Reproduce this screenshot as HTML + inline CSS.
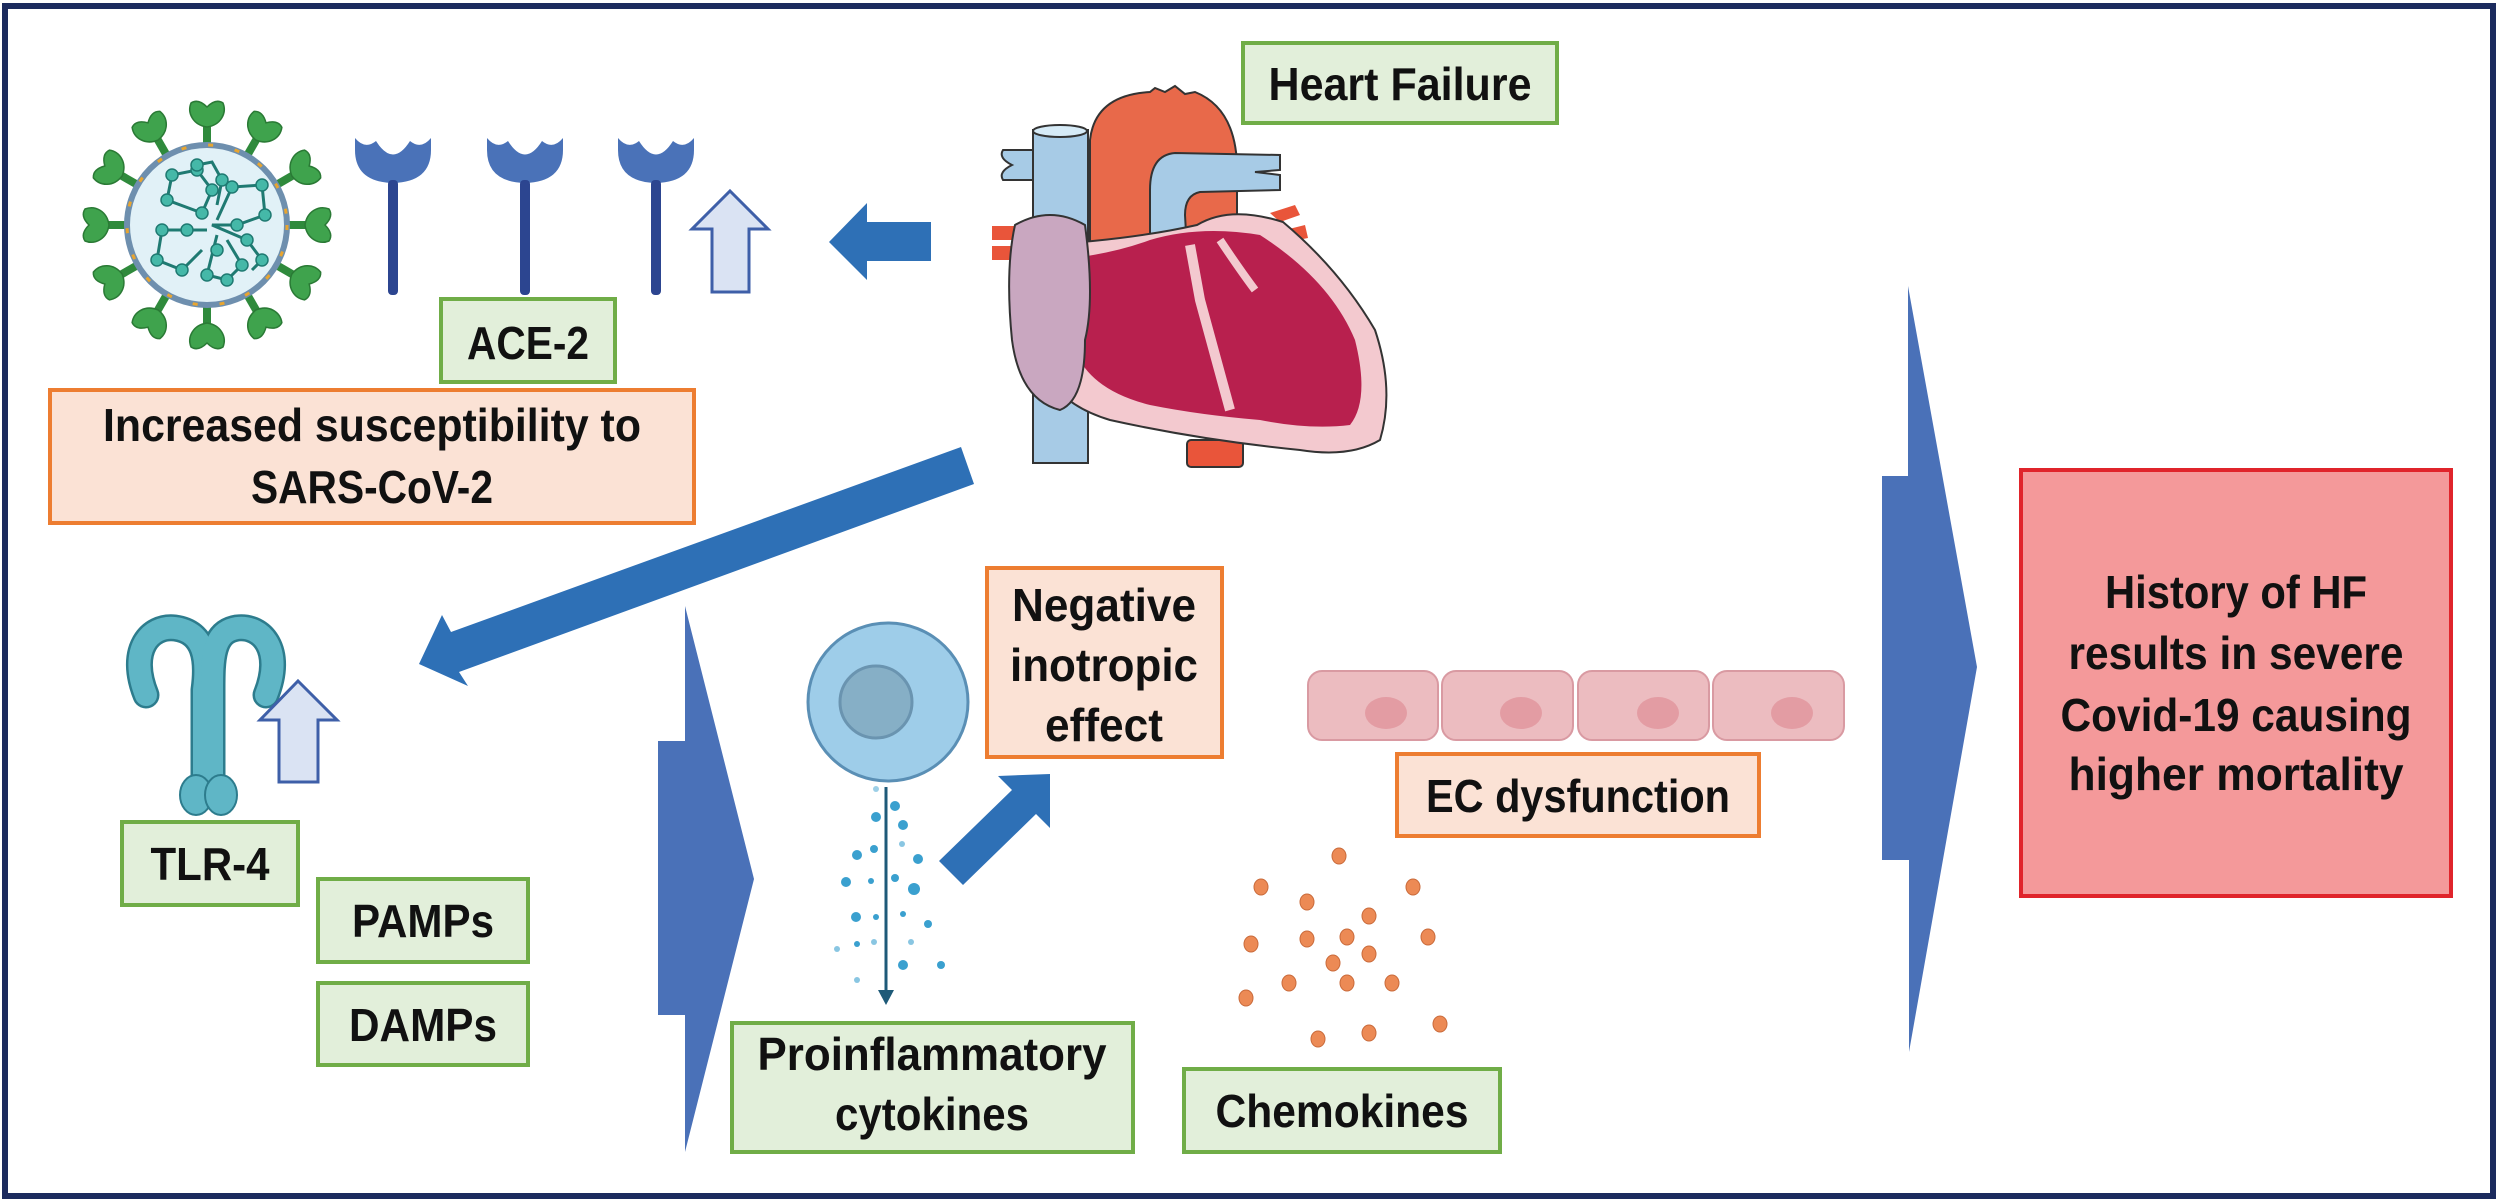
<!DOCTYPE html>
<html><head><meta charset="utf-8"><style>
html,body{margin:0;padding:0;background:#fff;}
svg{display:block;}
text{font-family:"Liberation Sans",sans-serif;font-weight:bold;fill:#111;text-anchor:middle;}
</style></head><body>
<svg width="2500" height="1204" viewBox="0 0 2500 1204" xmlns="http://www.w3.org/2000/svg">
<defs>
<g id="spike">
<rect x="-4" y="-104" width="8" height="26" fill="#2f8a3c"/>
<path d="M0,-98 C-14,-100 -20,-112 -16,-122 C-10,-126 -4,-122 0,-118 C4,-122 10,-126 16,-122 C20,-112 14,-100 0,-98 Z" fill="#3fa34d" stroke="#2a7a35" stroke-width="1.5"/>
</g>
</defs>
<rect x="0" y="0" width="2500" height="1204" fill="#fff"/>
<rect x="5" y="6" width="2488" height="1190" fill="none" stroke="#1c2b5e" stroke-width="6"/>

<!-- virus -->
<g transform="translate(207,225)">
<use href="#spike"/><use href="#spike" transform="rotate(30)"/><use href="#spike" transform="rotate(60)"/><use href="#spike" transform="rotate(90)"/><use href="#spike" transform="rotate(120)"/><use href="#spike" transform="rotate(150)"/><use href="#spike" transform="rotate(180)"/><use href="#spike" transform="rotate(210)"/><use href="#spike" transform="rotate(240)"/><use href="#spike" transform="rotate(270)"/><use href="#spike" transform="rotate(300)"/><use href="#spike" transform="rotate(330)"/>
<circle r="80" fill="#e1f1f7" stroke="#6e8fae" stroke-width="6"/>
<circle r="80" fill="none" stroke="#e8a530" stroke-width="3" stroke-dasharray="5 22"/>
<g fill="none" stroke="#1f7a72" stroke-width="3">
<path d="M-5,-12 L-40,-25 L-35,-50 L-10,-55 L5,-35 Z"/>
<path d="M0,5 L-45,5 L-50,35 L-25,45 L-5,25"/>
<path d="M10,10 L0,50 L20,55 L35,40 L20,15"/>
<path d="M10,-5 L25,-38 L55,-40 L58,-10 L30,0 L5,0 L40,15 L55,35 L45,45"/>
<path d="M-10,-60 L5,-63 L15,-45 L10,-20"/>
</g>
<g fill="#45b8a8" stroke="#1f7a72" stroke-width="1.5">
<circle cx="-5" cy="-12" r="6"/><circle cx="-40" cy="-25" r="6"/><circle cx="-35" cy="-50" r="6"/><circle cx="-10" cy="-55" r="6"/><circle cx="5" cy="-35" r="6"/>
<circle cx="-45" cy="5" r="6"/><circle cx="-50" cy="35" r="6"/><circle cx="-25" cy="45" r="6"/><circle cx="-20" cy="5" r="6"/>
<circle cx="0" cy="50" r="6"/><circle cx="20" cy="55" r="6"/><circle cx="35" cy="40" r="6"/><circle cx="10" cy="25" r="6"/>
<circle cx="25" cy="-38" r="6"/><circle cx="55" cy="-40" r="6"/><circle cx="58" cy="-10" r="6"/><circle cx="30" cy="0" r="6"/><circle cx="40" cy="15" r="6"/><circle cx="55" cy="35" r="6"/>
<circle cx="-10" cy="-60" r="6"/><circle cx="15" cy="-45" r="6"/>
</g>
</g>

<!-- ACE receptors -->
<g fill="#4a72b8">
<path d="M355,138 L355,150 Q355,182 393,183 Q431,182 431,150 L431,138 Q421,150 410,141 Q393,168 376,141 Q365,150 355,138 Z"/>
<path d="M487,138 L487,150 Q487,182 525,183 Q563,182 563,150 L563,138 Q553,150 542,141 Q525,168 508,141 Q497,150 487,138 Z"/>
<path d="M618,138 L618,150 Q618,182 656,183 Q694,182 694,150 L694,138 Q684,150 673,141 Q656,168 639,141 Q628,150 618,138 Z"/>
</g>
<g fill="#2c4590">
<rect x="388" y="180" width="10" height="115" rx="4"/>
<rect x="520" y="180" width="10" height="115" rx="4"/>
<rect x="651" y="180" width="10" height="115" rx="4"/>
</g>
<polygon points="730,191 768,229 749,229 749,292 712,292 712,229 692,229" fill="#dae3f3" stroke="#3e5fa8" stroke-width="3"/>
<polygon points="829,242 867,203 867,222 931,222 931,261 867,261 867,280" fill="#2e70b6"/>

<!-- heart -->
<g stroke="#333" stroke-width="2">
<path d="M1003,150 L1034,150 L1034,180 L1003,180 Q998,172 1012,165 Q998,158 1003,150 Z" fill="#a7cbe6"/>
<path d="M992,226 L1032,226 L1032,240 L992,240 Z M992,246 L1032,246 L1032,260 L992,260 Z" fill="#e9553a" stroke="none"/>
<rect x="1033" y="130" width="55" height="333" fill="#a7cbe6"/>
<ellipse cx="1060" cy="131" rx="27" ry="6" fill="#d6ebf7"/>
<path d="M1090,280 L1090,140 Q1095,95 1150,92 L1155,88 L1165,92 L1175,86 L1185,94 L1195,92 Q1240,110 1237,180 L1237,260 Z" fill="#e8694a"/>
<path d="M1150,250 L1150,190 Q1150,155 1175,153 L1280,155 L1280,170 L1255,172 L1280,175 L1280,190 L1200,192 Q1185,195 1185,215 L1187,250 Z" fill="#a7cbe6"/>
<path d="M1270,213 L1295,205 L1300,215 L1280,222 Z M1285,230 L1305,225 L1308,238 L1288,242 Z" fill="#e9553a" stroke="none"/>
<rect x="1187" y="440" width="56" height="27" rx="4" fill="#e9553a"/>
<path d="M1040,245 Q1130,240 1197,225 Q1230,205 1283,222 Q1340,270 1375,330 Q1395,390 1380,440 Q1350,458 1300,450 Q1200,440 1110,420 Q1060,405 1045,370 Q1025,300 1040,245 Z" fill="#f3c9cf"/>
<path d="M1055,260 Q1110,255 1150,240 Q1200,225 1260,235 Q1330,280 1355,340 Q1370,400 1350,425 Q1310,430 1260,420 Q1200,415 1150,405 Q1090,390 1075,350 Q1055,300 1055,260 Z" fill="#b8204e" stroke="none"/>
<path d="M1190,245 L1200,300 L1230,410" fill="none" stroke="#f3c9cf" stroke-width="10"/>
<path d="M1220,240 Q1240,270 1255,290" fill="none" stroke="#f3c9cf" stroke-width="8"/>
<path d="M1015,225 Q1050,205 1085,225 Q1095,300 1085,340 Q1085,400 1060,410 Q1020,400 1012,340 Q1005,270 1015,225 Z" fill="#c9a7c0"/>
</g>

<!-- diagonal arrow -->
<polygon points="961,447 451,632 442,615 419,664 468,686 459,672 974,484" fill="#2e70b6"/>

<!-- TLR-4 icon -->
<g fill="none" stroke-linecap="round" stroke-linejoin="round">
<g stroke="#2d7c8d" stroke-width="27">
<path d="M146,695 C128,650 150,625 175,628 C205,632 208,660 204,690 L204,785"/>
<path d="M266,695 C284,650 262,625 237,628 C212,632 212,660 212,690 L212,785"/>
</g>
<g stroke="#5fb6c6" stroke-width="22">
<path d="M146,695 C128,650 150,625 175,628 C205,632 208,660 204,690 L204,785"/>
<path d="M266,695 C284,650 262,625 237,628 C212,632 212,660 212,690 L212,785"/>
</g>
</g>
<g fill="#5fb6c6" stroke="#2d7c8d" stroke-width="2">
<ellipse cx="196" cy="795" rx="16" ry="20"/><ellipse cx="221" cy="795" rx="16" ry="20"/>
</g>
<polygon points="298,681 337,720 318,720 318,782 279,782 279,720 260,720" fill="#dae3f3" stroke="#3e5fa8" stroke-width="3"/>

<!-- chevrons -->
<polygon points="685,606 754,879 685,1152 685,1015 658,1015 658,741 685,741" fill="#4a71b8"/>
<polygon points="1908,286 1977,667 1909,1052 1909,860 1882,860 1882,476 1908,476" fill="#4a71b8"/>

<!-- cell -->
<ellipse cx="888" cy="702" rx="80" ry="79" fill="#9ecde9" stroke="#5a8fb5" stroke-width="3"/>
<circle cx="876" cy="702" r="36" fill="#86afc6" stroke="#6a94b0" stroke-width="3"/>
<line x1="886" y1="787" x2="886" y2="992" stroke="#1e5a78" stroke-width="3"/>
<polygon points="878,990 894,990 886,1005" fill="#1e5a78"/>
<g fill="#3aa0cf">
<circle cx="876" cy="789" r="3" opacity="0.5"/><circle cx="895" cy="806" r="5"/><circle cx="876" cy="817" r="5"/><circle cx="903" cy="825" r="5"/><circle cx="902" cy="844" r="3" opacity="0.6"/><circle cx="857" cy="855" r="5"/><circle cx="874" cy="849" r="4"/><circle cx="918" cy="859" r="5"/><circle cx="846" cy="882" r="5"/><circle cx="871" cy="881" r="3"/><circle cx="895" cy="878" r="4"/><circle cx="914" cy="889" r="6"/><circle cx="856" cy="917" r="5"/><circle cx="876" cy="917" r="3"/><circle cx="903" cy="914" r="3"/><circle cx="928" cy="924" r="4"/><circle cx="837" cy="949" r="3" opacity="0.6"/><circle cx="857" cy="944" r="3"/><circle cx="874" cy="942" r="3" opacity="0.6"/><circle cx="911" cy="942" r="3" opacity="0.6"/><circle cx="903" cy="965" r="5"/><circle cx="941" cy="965" r="4"/><circle cx="857" cy="980" r="3" opacity="0.6"/>
</g>
<polygon points="939,861 1012,790 998,776 1050,774 1050,828 1036,814 963,885" fill="#2e70b6"/>

<!-- EC cells -->
<g fill="#ecbcc0" stroke="#d99aa2" stroke-width="2">
<rect x="1308" y="671" width="130" height="69" rx="14"/><rect x="1442" y="671" width="131" height="69" rx="14"/><rect x="1578" y="671" width="131" height="69" rx="14"/><rect x="1713" y="671" width="131" height="69" rx="14"/>
</g>
<g fill="#e39ca3"><ellipse cx="1386" cy="713" rx="21" ry="16"/><ellipse cx="1521" cy="713" rx="21" ry="16"/><ellipse cx="1658" cy="713" rx="21" ry="16"/><ellipse cx="1792" cy="713" rx="21" ry="16"/></g>

<!-- chemokine dots -->
<g fill="#ec8a55" stroke="#c96a3a" stroke-width="1">
<ellipse cx="1339" cy="856" rx="7" ry="8"/><ellipse cx="1261" cy="887" rx="7" ry="8"/><ellipse cx="1413" cy="887" rx="7" ry="8"/><ellipse cx="1307" cy="902" rx="7" ry="8"/><ellipse cx="1369" cy="916" rx="7" ry="8"/><ellipse cx="1251" cy="944" rx="7" ry="8"/><ellipse cx="1307" cy="939" rx="7" ry="8"/><ellipse cx="1347" cy="937" rx="7" ry="8"/><ellipse cx="1428" cy="937" rx="7" ry="8"/><ellipse cx="1369" cy="954" rx="7" ry="8"/><ellipse cx="1333" cy="963" rx="7" ry="8"/><ellipse cx="1289" cy="983" rx="7" ry="8"/><ellipse cx="1347" cy="983" rx="7" ry="8"/><ellipse cx="1392" cy="983" rx="7" ry="8"/><ellipse cx="1246" cy="998" rx="7" ry="8"/><ellipse cx="1440" cy="1024" rx="7" ry="8"/><ellipse cx="1369" cy="1033" rx="7" ry="8"/><ellipse cx="1318" cy="1039" rx="7" ry="8"/>
</g>

<!-- boxes -->
<g stroke-width="4">
<rect x="1243" y="43" width="314" height="80" fill="#e2efda" stroke="#70ad47"/>
<rect x="441" y="299" width="174" height="83" fill="#e2efda" stroke="#70ad47"/>
<rect x="50" y="390" width="644" height="133" fill="#fbe2d5" stroke="#ed7d31"/>
<rect x="122" y="822" width="176" height="83" fill="#e2efda" stroke="#70ad47"/>
<rect x="318" y="879" width="210" height="83" fill="#e2efda" stroke="#70ad47"/>
<rect x="318" y="983" width="210" height="82" fill="#e2efda" stroke="#70ad47"/>
<rect x="987" y="568" width="235" height="189" fill="#fbe2d5" stroke="#ed7d31"/>
<rect x="732" y="1023" width="401" height="129" fill="#e2efda" stroke="#70ad47"/>
<rect x="1184" y="1069" width="316" height="83" fill="#e2efda" stroke="#70ad47"/>
<rect x="1397" y="754" width="362" height="82" fill="#fbe2d5" stroke="#ed7d31"/>
<rect x="2021" y="470" width="430" height="426" fill="#f4999a" stroke="#e0242b"/>
</g>

<g font-size="46">
<text x="1400" y="100" textLength="263" lengthAdjust="spacingAndGlyphs">Heart Failure</text>
<text x="528" y="359" textLength="122" lengthAdjust="spacingAndGlyphs">ACE-2</text>
<text x="372" y="441" textLength="538" lengthAdjust="spacingAndGlyphs">Increased susceptibility to</text>
<text x="372" y="503" textLength="242" lengthAdjust="spacingAndGlyphs">SARS-CoV-2</text>
<text x="210" y="880" textLength="119" lengthAdjust="spacingAndGlyphs">TLR-4</text>
<text x="423" y="937" textLength="142" lengthAdjust="spacingAndGlyphs">PAMPs</text>
<text x="423" y="1041" textLength="148" lengthAdjust="spacingAndGlyphs">DAMPs</text>
<text x="1104" y="621" textLength="184" lengthAdjust="spacingAndGlyphs">Negative</text>
<text x="1104" y="681" textLength="188" lengthAdjust="spacingAndGlyphs">inotropic</text>
<text x="1104" y="741" textLength="118" lengthAdjust="spacingAndGlyphs">effect</text>
<text x="932" y="1070" textLength="349" lengthAdjust="spacingAndGlyphs">Proinflammatory</text>
<text x="932" y="1130" textLength="194" lengthAdjust="spacingAndGlyphs">cytokines</text>
<text x="1342" y="1127" textLength="253" lengthAdjust="spacingAndGlyphs">Chemokines</text>
<text x="1578" y="812" textLength="304" lengthAdjust="spacingAndGlyphs">EC dysfunction</text>
<text x="2236" y="608" textLength="262" lengthAdjust="spacingAndGlyphs">History of HF</text>
<text x="2236" y="669" textLength="335" lengthAdjust="spacingAndGlyphs">results in severe</text>
<text x="2236" y="731" textLength="351" lengthAdjust="spacingAndGlyphs">Covid-19 causing</text>
<text x="2236" y="790" textLength="335" lengthAdjust="spacingAndGlyphs">higher mortality</text>
</g>
</svg>
</body></html>
